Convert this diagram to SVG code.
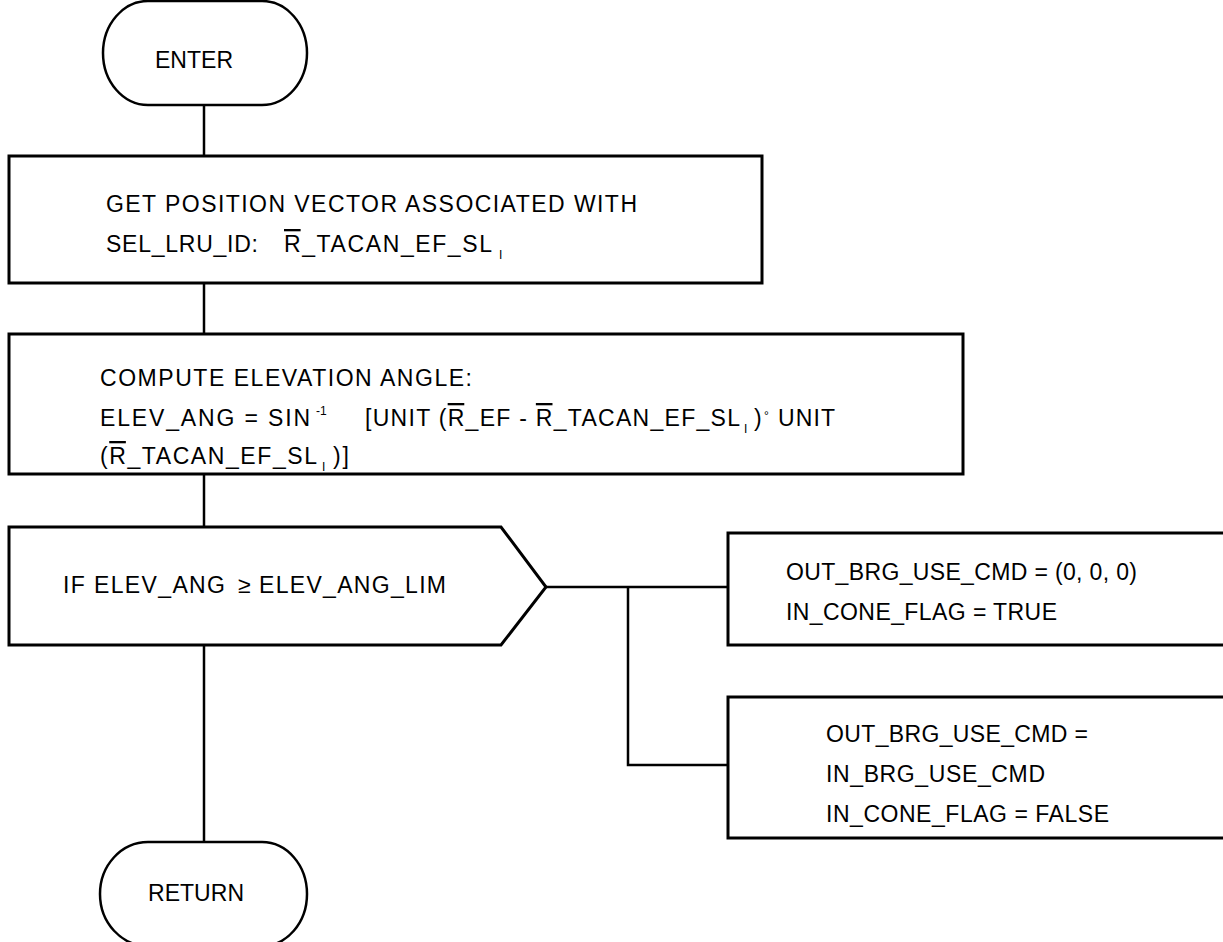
<svg xmlns="http://www.w3.org/2000/svg" width="1223" height="942" viewBox="0 0 1223 942">
<style>
.shape{fill:#fff;stroke:#000;stroke-width:3}
.term{fill:#fff;stroke:#000;stroke-width:2.5}
.conn{fill:none;stroke:#000;stroke-width:2.5}
text{font-family:"Liberation Sans Narrow","Liberation Sans",Arial,sans-serif;font-size:23px;fill:#000}
.sub{font-size:12px}
.ov{text-decoration:overline}
</style>
<rect width="1223" height="942" fill="#fff"/>
<g id="connectors">
<line class="conn" x1="204" y1="105" x2="204" y2="156"/>
<line class="conn" x1="204" y1="283" x2="204" y2="334"/>
<line class="conn" x1="204" y1="474" x2="204" y2="527"/>
<line class="conn" x1="204" y1="645" x2="204" y2="842"/>
<line class="conn" x1="546" y1="587" x2="728" y2="587"/>
<polyline class="conn" points="628,587 628,765 728,765"/>
</g>
<g id="enter">
<path class="term" d="M148,105 L262,105 A45,52 0 0 0 262,1 L148,1 A45,52 0 0 0 148,105 Z"/>
<text x="155" y="68" textLength="78" lengthAdjust="spacing">ENTER</text>
</g>
<g id="get-position">
<rect class="shape" x="9" y="156" width="753" height="127"/>
<text x="106" y="212" textLength="531" lengthAdjust="spacing">GET POSITION VECTOR ASSOCIATED WITH</text>
<text x="106" y="252" textLength="152" lengthAdjust="spacing">SEL_LRU_ID:</text>
<text x="284" y="252" textLength="208" lengthAdjust="spacing"><tspan class="ov">R</tspan>_TACAN_EF_SL</text>
<text class="sub" x="499" y="259">I</text>
</g>
<g id="compute-elevation">
<rect class="shape" x="9" y="334" width="954" height="140"/>
<text x="100" y="386" textLength="372" lengthAdjust="spacing">COMPUTE ELEVATION ANGLE:</text>
<text x="100" y="426" textLength="210" lengthAdjust="spacing">ELEV_ANG = SIN</text>
<text class="sub" x="316" y="415">-1</text>
<text x="365" y="426" textLength="375" lengthAdjust="spacing">[UNIT (<tspan class="ov">R</tspan>_EF - <tspan class="ov">R</tspan>_TACAN_EF_SL</text>
<text class="sub" x="744" y="433">I</text>
<text x="754" y="426">)</text>
<text class="sub" x="764" y="420">°</text>
<text x="778" y="426" textLength="57" lengthAdjust="spacing">UNIT</text>
<text x="100" y="464" textLength="217" lengthAdjust="spacing">(<tspan class="ov">R</tspan>_TACAN_EF_SL</text>
<text class="sub" x="322" y="471">I</text>
<text x="333" y="464" textLength="16" lengthAdjust="spacing">)]</text>
</g>
<g id="decision">
<path class="shape" d="M9,527 L501,527 L546,587 L501,645 L9,645 Z"/>
<text x="63" y="593" textLength="162" lengthAdjust="spacing">IF ELEV_ANG</text>
<text x="238" y="593">≥</text>
<text x="259" y="593" textLength="187" lengthAdjust="spacing">ELEV_ANG_LIM</text>
</g>
<g id="in-cone-true">
<rect class="shape" x="728" y="533" width="520" height="112"/>
<text x="786" y="580" textLength="351" lengthAdjust="spacing">OUT_BRG_USE_CMD = (0, 0, 0)</text>
<text x="786" y="620" textLength="271" lengthAdjust="spacing">IN_CONE_FLAG = TRUE</text>
</g>
<g id="in-cone-false">
<rect class="shape" x="728" y="697" width="520" height="141"/>
<text x="826" y="742" textLength="262" lengthAdjust="spacing">OUT_BRG_USE_CMD =</text>
<text x="826" y="782" textLength="219" lengthAdjust="spacing">IN_BRG_USE_CMD</text>
<text x="826" y="822" textLength="283" lengthAdjust="spacing">IN_CONE_FLAG = FALSE</text>
</g>
<g id="return">
<path class="term" d="M148,842 L262,842 A45,52 0 0 1 262,946 L148,946 A48,52 0 0 1 148,842 Z"/>
<text x="148" y="901" textLength="96" lengthAdjust="spacing">RETURN</text>
</g>
</svg>
